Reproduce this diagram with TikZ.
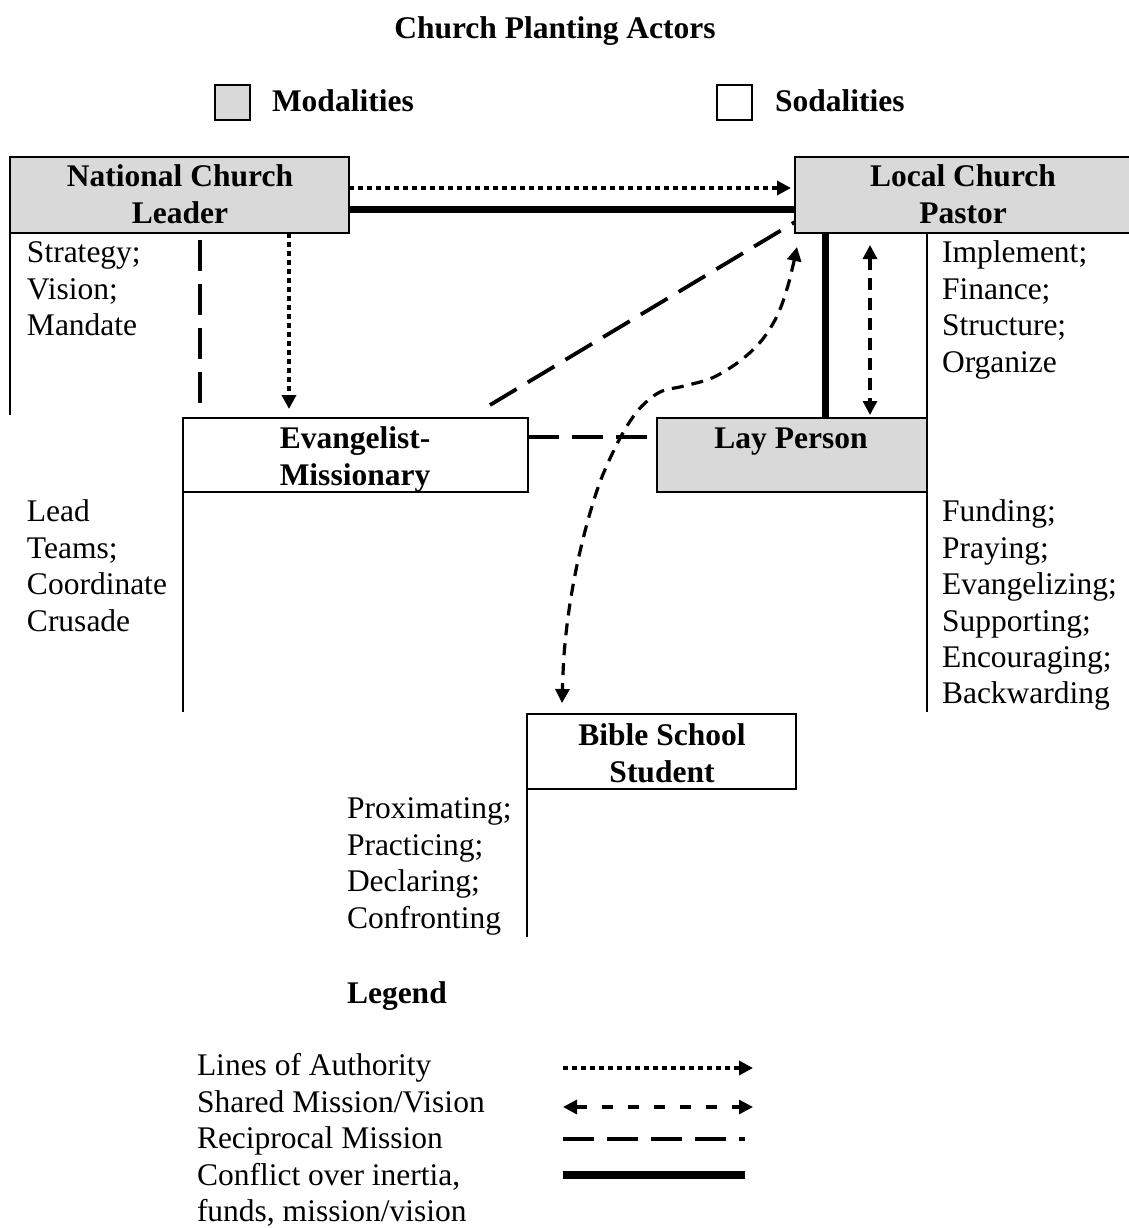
\documentclass[tikz,border=0pt]{standalone}
\usepackage{fontspec}
\setmainfont{Liberation Serif}
\usetikzlibrary{arrows.meta}
\definecolor{modalgray}{RGB}{217,217,217}
\newcommand\diafont{\fontsize{31.5}{36.4}\selectfont}

\begin{document}
\begin{tikzpicture}[x=1pt,y=-1pt,
  every node/.style={inner sep=0pt, outer sep=0pt},
  actor/.style={draw, line width=2pt, rectangle, anchor=north west},
  modal/.style={actor, fill=modalgray},
  sodal/.style={actor, fill=white},
  head/.style={font=\diafont\bfseries, align=center},
  note/.style={font=\diafont, align=left, anchor=north west},
  frame/.style={line width=2pt},
  tip/.tip={Triangle[length=14pt,width=14pt]},
  authority/.style={line width=4.5pt, dash pattern=on 4.5pt off 4.5pt, -tip},
  shared/.style={line width=3.2pt, dash pattern=on 12pt off 8pt, tip-tip},
  reciprocal/.style={line width=3.8pt, dash pattern=on 31pt off 13pt},
  conflict/.style={line width=7pt},
]
\useasboundingbox (0,0) rectangle (1128,1228);

% title and key
\node[head, anchor=base] (title) at (555,39) {Church Planting Actors};
\node[modal, minimum width=35pt, minimum height=35pt] (key-mod) at (215,85) {};
\node[head, anchor=base west] (key-mod-t) at (272,112) {Modalities};
\node[sodal, minimum width=35pt, minimum height=35pt] (key-sod) at (717,85) {};
\node[head, anchor=base west] (key-sod-t) at (775,112) {Sodalities};

% actors
\node[modal, minimum width=339pt, minimum height=76pt] (ncl) at (10,157) {};
\node[modal, minimum width=345pt, minimum height=76pt] (lcp) at (795,157) {};
\node[sodal, minimum width=345pt, minimum height=74pt] (evm) at (183,418) {};
\node[modal, minimum width=270pt, minimum height=74pt] (lay) at (657,418) {};
\node[sodal, minimum width=269pt, minimum height=75pt] (bss) at (527,714) {};

\node[head, anchor=north] (ncl-t) at (180,161.5) {\strut National Church\\Leader};
\node[head, anchor=north] (lcp-t) at (963,161.5) {\strut Local Church\\Pastor};
\node[head, anchor=north] (evm-t) at (355,423.5) {\strut Evangelist-\\Missionary};
\node[head, anchor=base] (lay-t) at (791,448) {Lay Person};
\node[head, anchor=north] (bss-t) at (662,720.5) {\strut Bible School\\Student};

% role notes and their frame lines
\node[note] (ncl-n) at (27,237.5) {\strut Strategy;\\Vision;\\Mandate};
\node[note] (lcp-n) at (942,237.5) {\strut Implement;\\Finance;\\Structure;\\Organize};
\node[note] (evm-n) at (27,496.5) {\strut Lead\\Teams;\\Coordinate\\Crusade};
\node[note] (lay-n) at (942,496.5) {\strut Funding;\\Praying;\\Evangelizing;\\Supporting;\\Encouraging;\\Backwarding};
\node[note] (bss-n) at (347,793.5) {\strut Proximating;\\Practicing;\\Declaring;\\Confronting};

\coordinate (ncl-end) at (10,415);
\coordinate (evm-end) at (183,712);
\coordinate (lcp-frame) at (927,233);
\coordinate (lay-end) at (927,712);
\coordinate (bss-end) at (527,937);
\draw[frame] (ncl.south west) -- (ncl-end);
\draw[frame] (evm.south west) -- (evm-end);
\draw[frame] (lcp-frame) -- (lay.north east) (lay.south east) -- (lay-end);
\draw[frame] (bss.south west) -- (bss-end);

% connectors
\draw[authority, shorten >=4pt] ([yshift=7pt]ncl.east) -- ([yshift=7pt]ncl.east -| lcp.west);
\draw[conflict] ([yshift=-14pt]ncl.east) -- ([yshift=-14pt]ncl.east -| lcp.west);
\draw[authority, shorten >=9pt] ([xshift=109.5pt]ncl.south) -- ([xshift=109.5pt]ncl.south |- evm.north);
\draw[reciprocal, shorten <=7pt, shorten >=13pt] ([xshift=20.5pt]ncl.south) -- ([xshift=20.5pt]ncl.south |- evm.north);
\coordinate (diag-a) at (490,405);
\draw[reciprocal] (diag-a) -- ([yshift=11pt]lcp.south west);
\draw[reciprocal] ([yshift=18pt]evm.east) -- ([yshift=18pt]evm.east -| lay.west);
\draw[conflict] ([xshift=30pt]lcp.south west) -- ([xshift=30pt]lcp.south west |- lay.north);
\draw[shared, shorten <=12pt, shorten >=3pt] ([xshift=75pt]lcp.south west) -- ([xshift=75pt]lcp.south west |- lay.north);
\coordinate (cv-top) at (797,247);
\coordinate (cv-bot) at (562,703);
\draw[shared] plot[smooth, tension=0.55] coordinates {
  (cv-top) (789,282) (778,314) (762,340) (740,361) (712,378) (684,386)
  (660,392) (641,407) (627,426) (614,450) (600,482) (588,520) (577,565)
  (569,610) (564,655) (cv-bot)};

% legend
\node[head, anchor=base west] (legend) at (347,1003) {Legend};
\node[note] (legend-n) at (197,1050.5) {\strut Lines of Authority\\Shared Mission/Vision\\Reciprocal Mission\\Conflict over inertia,\\funds, mission/vision};
\coordinate (lg1a) at (563,1068); \coordinate (lg1b) at (753,1068);
\coordinate (lg2a) at (563,1107); \coordinate (lg2b) at (753,1107);
\coordinate (lg3a) at (563,1139); \coordinate (lg3b) at (745,1139);
\coordinate (lg4a) at (563,1175); \coordinate (lg4b) at (745,1175);
\draw[authority] (lg1a) -- (lg1b);
\draw[shared, dash pattern=on 11pt off 15pt] (lg2a) -- (lg2b);
\draw[reciprocal] (lg3a) -- (lg3b);
\draw[conflict, line width=8pt] (lg4a) -- (lg4b);
\end{tikzpicture}
\end{document}
